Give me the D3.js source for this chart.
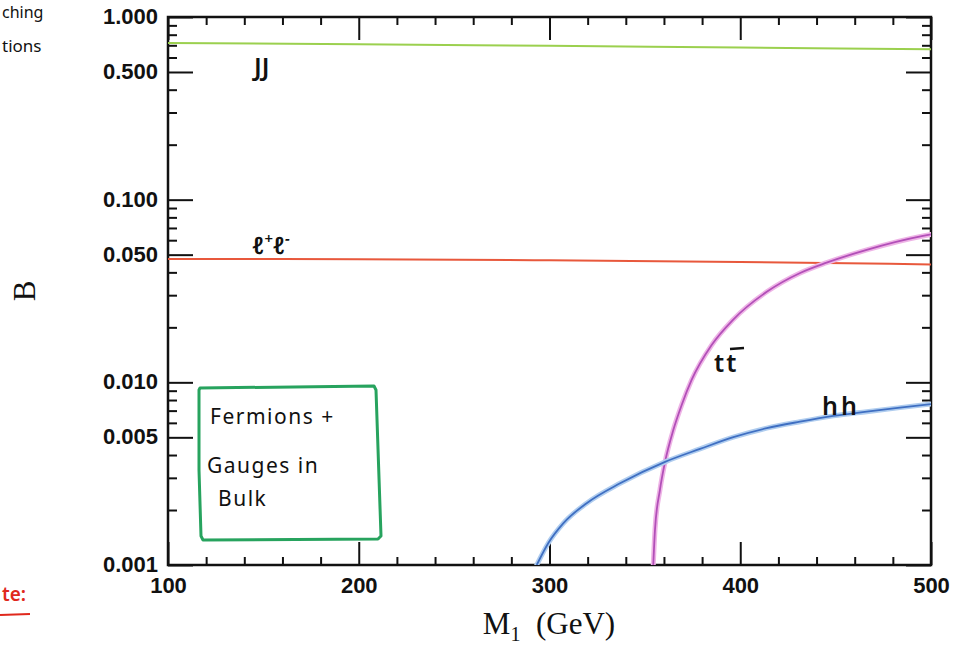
<!DOCTYPE html>
<html>
<head>
<meta charset="utf-8">
<script src="https://cdn.jsdelivr.net/npm/d3@7"></script>
<style>
  html, body { margin: 0; padding: 0; background: #fff; }
  svg { display: block; }
</style>
</head>
<body>
<svg id="chart" width="956" height="649"></svg>
<script>
// Branching fractions B versus M1 (GeV), fermions + gauges in bulk

// jj channel
const jjMass = [100, 200, 300, 400, 500];
const jjB    = [0.72, 0.71, 0.695, 0.68, 0.665];

// l+l- channel
const llMass = [100, 200, 300, 400, 500];
const llB    = [0.0474, 0.0472, 0.0466, 0.0456, 0.0442];

// t tbar channel (opens near 2 m_t)
const ttMass = [354.4, 355.3, 357.9, 360.6, 364.9, 369.3, 374.5, 385, 396.2, 413.9, 431.4, 445.3, 466.3, 495.8, 500];
const ttB    = [0.001, 0.00156, 0.00258, 0.00368, 0.00548, 0.00752, 0.0103, 0.016, 0.022, 0.0313, 0.0397, 0.0452, 0.0531, 0.0633, 0.0645];

// hh channel
const hhMass = [293.3, 299.4, 307.2, 319.5, 337, 360.6, 378.9, 396.4, 413.9, 431.3, 448.8, 466.3, 483.7, 500];
const hhB    = [0.001, 0.00132, 0.00169, 0.00218, 0.0028, 0.00367, 0.00432, 0.00501, 0.00561, 0.00609, 0.00655, 0.00691, 0.00727, 0.0076];

// axis ticks
const xMajorTicks = [100, 200, 300, 400, 500];
const xMinorTicks = [120, 140, 160, 180, 220, 240, 260, 280, 320, 340, 360, 380, 420, 440, 460, 480];
const yLabelTicks = [0.001, 0.005, 0.010, 0.050, 0.100, 0.500, 1.000];

const svg = d3.select("#chart");
const L = 168, R = 931, T = 17, B = 565;

const x = d3.scaleLinear().domain([100, 500]).range([L, R]);
const y = d3.scaleLog().domain([0.001, 1]).range([B, T]);

const yMinorTicks = y.ticks().filter(v => !yLabelTicks.some(t => Math.abs(t - v) / v < 1e-6));

const tickColor = "#111";
const fmtY = d3.format(".3f");

function styleAxis(g) {
  g.select(".domain").remove();
  g.selectAll(".tick line").attr("stroke", tickColor).attr("stroke-width", 2);
}

// --- y axes (left with labels, right mirrored) ---
const gLeftMaj = svg.append("g").attr("transform", `translate(${L},0)`)
  .call(d3.axisLeft(y).tickValues(yLabelTicks).tickSize(-25).tickPadding(10).tickFormat(fmtY));
styleAxis(gLeftMaj);
gLeftMaj.selectAll(".tick text")
  .attr("font-family", "'Liberation Sans', Arial, sans-serif")
  .attr("font-weight", "bold").attr("font-size", 22).attr("fill", "#111")
  .attr("dy", "0.3em");

const gLeftMin = svg.append("g").attr("transform", `translate(${L},0)`)
  .call(d3.axisLeft(y).tickValues(yMinorTicks).tickSize(-9).tickFormat(""));
styleAxis(gLeftMin);

const gRightMaj = svg.append("g").attr("transform", `translate(${R},0)`)
  .call(d3.axisRight(y).tickValues(yLabelTicks).tickSize(-25).tickFormat(""));
styleAxis(gRightMaj);
const gRightMin = svg.append("g").attr("transform", `translate(${R},0)`)
  .call(d3.axisRight(y).tickValues(yMinorTicks).tickSize(-9).tickFormat(""));
styleAxis(gRightMin);

// --- x axes (bottom with labels, top mirrored) ---
const gBotMaj = svg.append("g").attr("transform", `translate(0,${B})`)
  .call(d3.axisBottom(x).tickValues(xMajorTicks).tickSize(-23).tickPadding(12).tickFormat(d3.format("d")));
styleAxis(gBotMaj);
gBotMaj.selectAll(".tick text")
  .attr("font-family", "'Liberation Sans', Arial, sans-serif")
  .attr("font-weight", "bold").attr("font-size", 22).attr("fill", "#111");

const gBotMin = svg.append("g").attr("transform", `translate(0,${B})`)
  .call(d3.axisBottom(x).tickValues(xMinorTicks).tickSize(-8).tickFormat(""));
styleAxis(gBotMin);

const gTopMaj = svg.append("g").attr("transform", `translate(0,${T})`)
  .call(d3.axisTop(x).tickValues(xMajorTicks).tickSize(-23).tickFormat(""));
styleAxis(gTopMaj);
const gTopMin = svg.append("g").attr("transform", `translate(0,${T})`)
  .call(d3.axisTop(x).tickValues(xMinorTicks).tickSize(-8).tickFormat(""));
styleAxis(gTopMin);

// frame
svg.append("rect")
  .attr("x", L).attr("y", T).attr("width", R - L).attr("height", B - T)
  .attr("fill", "none").attr("stroke", tickColor).attr("stroke-width", 2.5);

// --- curves ---
svg.append("clipPath").attr("id", "plotClip")
  .append("rect").attr("x", L).attr("y", T).attr("width", R - L).attr("height", B - T);

const line = d3.line()
  .x(d => x(d[0]))
  .y(d => y(d[1]))
  .curve(d3.curveMonotoneX);

const curves = [
  { mass: jjMass, val: jjB, color: "#9bd04e", halo: null, w: 2 },
  { mass: llMass, val: llB, color: "#e8583c", halo: null, w: 2 },
  { mass: ttMass, val: ttB, color: "#b24fb8", halo: "#eeb4e6", w: 1.8 },
  { mass: hhMass, val: hhB, color: "#3f6fc2", halo: "#b0cdef", w: 1.8 }
];

const gCurves = svg.append("g").attr("clip-path", "url(#plotClip)");
curves.forEach(c => {
  const pts = c.mass.map((m, i) => [m, c.val[i]]);
  if (c.halo) {
    gCurves.append("path").datum(pts).attr("d", line)
      .attr("fill", "none").attr("stroke", c.halo).attr("stroke-width", 5)
      .attr("stroke-linecap", "round");
  }
  gCurves.append("path").datum(pts).attr("d", line)
    .attr("fill", "none").attr("stroke", c.color).attr("stroke-width", c.w);
});

// --- axis titles ---
const xTitle = svg.append("text")
  .attr("x", 549).attr("y", 634)
  .attr("text-anchor", "middle")
  .attr("font-family", "'Liberation Serif', 'DejaVu Serif', serif")
  .attr("font-size", 31).attr("fill", "#111");
xTitle.append("tspan").text("M");
xTitle.append("tspan").attr("font-size", 20).attr("dy", 7).text("1");
xTitle.append("tspan").attr("dy", -7).text("\u00a0 (GeV)");

svg.append("text")
  .attr("transform", "translate(35,291) rotate(-90)")
  .attr("text-anchor", "middle")
  .attr("font-family", "'Liberation Serif', 'DejaVu Serif', serif")
  .attr("font-size", 31).attr("fill", "#111")
  .text("B");

// --- hand-written style annotations ---
const hand = "'Noto Sans', 'DejaVu Sans', sans-serif";

svg.append("text").attr("x", 254).attr("y", 76)
  .attr("font-family", hand).attr("font-size", 25).attr("font-weight", 600)
  .attr("fill", "#111").text("JJ");

const llText = svg.append("text").attr("x", 252).attr("y", 254)
  .attr("font-family", hand).attr("font-size", 24).attr("font-style", "italic")
  .attr("font-weight", 600).attr("fill", "#111");
llText.append("tspan").text("ℓ");
llText.append("tspan").attr("font-size", 15).attr("dy", -10).text("+");
llText.append("tspan").attr("dy", 10).text("ℓ");
llText.append("tspan").attr("font-size", 15).attr("dy", -10).text("−");

svg.append("text").attr("x", 714).attr("y", 372)
  .attr("font-family", hand).attr("font-size", 25).attr("font-weight", 600)
  .attr("fill", "#111").attr("letter-spacing", 2).text("tt");
// bar over the second t
svg.append("line").attr("x1", 730).attr("x2", 744).attr("y1", 349).attr("y2", 348)
  .attr("stroke", "#111").attr("stroke-width", 2.5);

svg.append("text").attr("x", 822).attr("y", 415)
  .attr("font-family", hand).attr("font-size", 25).attr("font-weight", 600)
  .attr("fill", "#111").attr("letter-spacing", 3).text("hh");

// boxed note
svg.append("path")
  .attr("d", "M199,390 L200,388 L374,386 L376,390 L381,536 L378,539 L203,540 L201,536 L199,470 Z")
  .attr("fill", "none").attr("stroke", "#27a35e").attr("stroke-width", 3)
  .attr("stroke-linejoin", "round");

const noteLines = ["Fermions +", "Gauges  in", "Bulk"];
const noteX = [210, 207, 218];
const noteY = [424, 473, 506];
noteLines.forEach((t, i) => {
  svg.append("text").attr("x", noteX[i]).attr("y", noteY[i])
    .attr("font-family", hand).attr("font-size", 21).attr("letter-spacing", 1.5)
    .attr("fill", "#111").text(t);
});

// margin notes
svg.append("text").attr("x", 2).attr("y", 18)
  .attr("font-family", hand).attr("font-size", 16).attr("fill", "#111").text("ching");
svg.append("text").attr("x", 2).attr("y", 52)
  .attr("font-family", hand).attr("font-size", 17).attr("fill", "#111").text("tions");
svg.append("text").attr("x", 2).attr("y", 601)
  .attr("font-family", hand).attr("font-size", 19).attr("font-weight", 600)
  .attr("fill", "#e0281c").text("te:");
svg.append("line").attr("x1", 0).attr("x2", 30).attr("y1", 615).attr("y2", 614)
  .attr("stroke", "#e0281c").attr("stroke-width", 2);
</script>
</body>
</html>
